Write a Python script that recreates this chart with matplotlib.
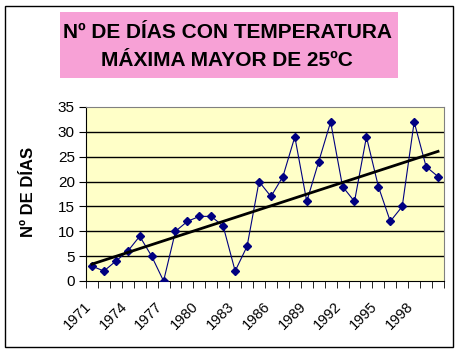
import matplotlib.pyplot as plt
import matplotlib.transforms as mtransforms
import numpy as np
from matplotlib.patches import Rectangle

plt.rcParams['font.family'] = ['Liberation Sans', 'DejaVu Sans']

# años y número de días
years = list(range(1971, 2001))
days = [3, 2, 4, 6, 9, 5, 0, 10, 12, 13, 13, 11, 2, 7, 20,
        17, 21, 29, 16, 24, 32, 19, 16, 29, 19, 12, 15, 32, 23, 21]
yticks = [0, 5, 10, 15, 20, 25, 30, 35]

fig = plt.figure(figsize=(4.6, 3.53), dpi=100)
fig.patch.set_facecolor('white')

# borde exterior
fig.patches.append(Rectangle((5 / 460, 6 / 353), 448 / 460, 341 / 353,
                             transform=fig.transFigure, fill=False,
                             edgecolor='black', linewidth=1.0))

# caja del titulo
fig.patches.append(Rectangle((60 / 460, 1 - 78 / 353), 338 / 460, 66 / 353,
                             transform=fig.transFigure, facecolor='#F7A1D6',
                             edgecolor='none'))
fig.text(228 / 460, 1 - 38 / 353, 'Nº DE DÍAS CON TEMPERATURA',
         ha='center', va='baseline', fontsize=15, fontweight='bold')
fig.text(227 / 460, 1 - 66 / 353, 'MÁXIMA MAYOR DE 25ºC',
         ha='center', va='baseline', fontsize=15, fontweight='bold')

ax = fig.add_axes([86 / 460, 1 - 281 / 353, 358 / 460, 174 / 353])
ax.set_facecolor('#FFFFC8')

x = np.arange(len(years))
ax.plot(x, days, color='#000080', linewidth=0.8, marker='D', markersize=4,
        markerfacecolor='#000080', markeredgecolor='#000080', zorder=3)

# linea de tendencia
coef = np.polyfit(x, days, 1)
ax.plot(x, np.polyval(coef, x), color='black', linewidth=2, zorder=4)

ax.set_xlim(-0.5, len(years) - 0.5)
ax.set_ylim(0, 35)
ax.set_yticks(yticks)
ax.set_yticklabels([str(v) for v in yticks], fontsize=11)
for v in yticks[1:-1]:
    ax.axhline(v, color='black', linewidth=1, zorder=1)

ax.set_xticks(x[::3])
ax.set_xticklabels([str(y) for y in years[::3]], rotation=45, ha='right',
                   va='top', rotation_mode='anchor', fontsize=10.5)
ax.set_xticks(np.arange(-0.5, len(years)), minor=True)
ax.tick_params(axis='x', which='major', length=0, pad=13)
ax.tick_params(axis='x', which='minor', length=5, direction='out')
ax.tick_params(axis='y', length=5, direction='out', pad=3)
offset = mtransforms.ScaledTranslation(-8 / 100, 0, fig.dpi_scale_trans)
for lab in ax.get_xticklabels():
    lab.set_transform(lab.get_transform() + offset)

ax.spines['top'].set_color('#808080')
ax.spines['right'].set_color('#808080')
ax.spines['left'].set_color('black')
ax.spines['bottom'].set_color('black')

fig.text(29 / 460, 1 - 192 / 353, 'Nº DE DÍAS', rotation=90, ha='center',
         va='center', fontsize=12, fontweight='bold')

fig.savefig('out.png', dpi=100)
